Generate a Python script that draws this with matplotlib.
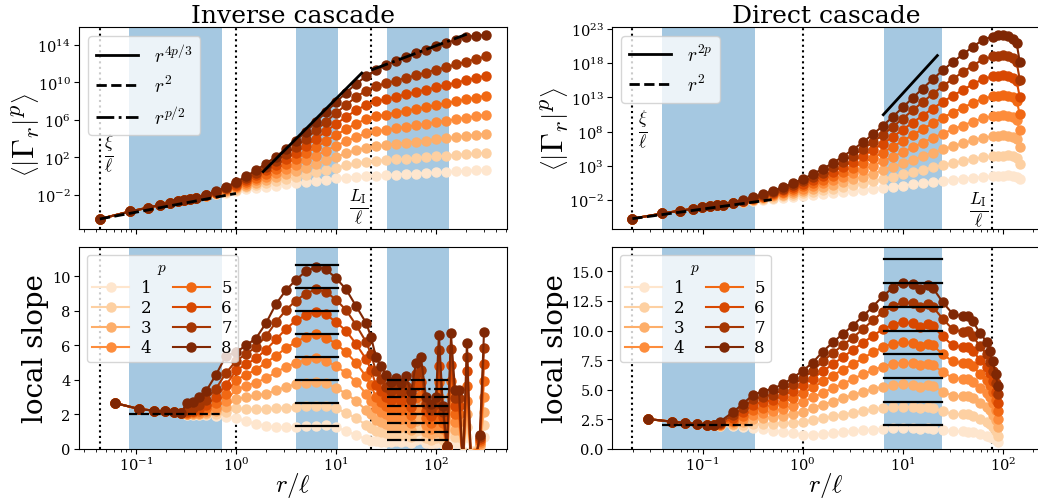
import numpy as np
import matplotlib
matplotlib.use("Agg")
import matplotlib.pyplot as plt
from matplotlib.lines import Line2D
from matplotlib.ticker import NullLocator

plt.rcParams['font.family'] = 'serif'
plt.rcParams['font.serif'] = ['DejaVu Serif']
plt.rcParams['mathtext.fontset'] = 'cm'

p_values = [1, 2, 3, 4, 5, 6, 7, 8]

# ---------------- Inverse cascade : structure functions (log10 values) -------------
inv_r_top = [0.0435, 0.087, 0.132, 0.174, 0.219, 0.263, 0.302, 0.347,
             0.398, 0.501, 0.631, 0.794, 1.0, 1.26, 1.58, 2.0, 2.51, 3.16, 3.98, 5.01,
             6.31, 7.94, 10.0, 12.6, 15.8, 20.0, 25.1, 31.6, 39.8, 50.1, 63.1, 79.4,
             100, 126, 158, 200, 251, 316]
inv_top_small = [-4.56, -3.76, -3.35, -3.07, -2.86, -2.69, -2.55, -2.43]
inv_top_p1 = [-2.31, -2.12, -1.93, -1.74, -1.56, -1.39, -1.24, -1.11, -0.99, -0.87, -0.75, -0.62, -0.49, -0.36, -0.24,
              -0.14, -0.06, 0.00, 0.07, 0.13, 0.18, 0.24, 0.29, 0.35, 0.40, 0.46, 0.51, 0.57, 0.62, 0.68]
inv_top_p2 = [-2.31, -2.10, -1.88, -1.65, -1.43, -1.19, -0.97, -0.76, -0.55, -0.33, -0.10, 0.15, 0.41, 0.67, 0.92,
              1.15, 1.36, 1.52, 1.63, 1.71, 1.79, 1.87, 1.95, 2.03, 2.11, 2.19, 2.27, 2.35, 2.43, 2.51]
inv_top_p3 = [-2.30, -2.08, -1.83, -1.57, -1.29, -1.00, -0.70, -0.41, -0.11, 0.21, 0.55, 0.91, 1.31, 1.70, 2.09,
              2.44, 2.77, 3.04, 3.20, 3.32, 3.44, 3.57, 3.69, 3.81, 3.93, 4.05, 4.17, 4.30, 4.42, 4.54]
inv_top_p4 = [-2.30, -2.06, -1.79, -1.48, -1.16, -0.80, -0.43, -0.06, 0.33, 0.75, 1.20, 1.68, 2.21, 2.73, 3.25,
              3.73, 4.19, 4.56, 4.78, 4.94, 5.11, 5.27, 5.43, 5.59, 5.76, 5.92, 6.08, 6.24, 6.41, 6.57]
inv_top_p5 = [-2.29, -2.04, -1.74, -1.39, -1.02, -0.61, -0.16, 0.29, 0.77, 1.29, 1.85, 2.45, 3.11, 3.76, 4.41,
              5.02, 5.60, 6.09, 6.38, 6.58, 6.78, 6.98, 7.18, 7.39, 7.59, 7.79, 7.99, 8.19, 8.39, 8.59]
inv_top_p6 = [-2.29, -2.02, -1.69, -1.30, -0.89, -0.41, 0.11, 0.65, 1.22, 1.82, 2.50, 3.22, 4.00, 4.79, 5.58,
              6.32, 7.02, 7.61, 7.98, 8.23, 8.48, 8.73, 8.98, 9.23, 9.48, 9.73, 9.98, 10.23, 10.48, 10.73]
inv_top_p7 = [-2.28, -2.00, -1.65, -1.22, -0.76, -0.22, 0.37, 1.00, 1.66, 2.36, 3.15, 3.98, 4.90, 5.82, 6.74,
              7.61, 8.43, 9.13, 9.62, 9.91, 10.20, 10.48, 10.77, 11.06, 11.35, 11.64, 11.93, 12.21, 12.50, 12.79]
inv_top_p8 = [-2.28, -1.98, -1.60, -1.13, -0.62, -0.02, 0.64, 1.35, 2.10, 2.90, 3.80, 4.75, 5.80, 6.85, 7.90,
              8.90, 9.85, 10.65, 11.30, 11.85, 12.30, 12.70, 13.10, 13.50, 13.85, 14.20, 14.55, 14.85, 15.00, 15.07]

# ---------------- Inverse cascade : local slopes -------------
inv_r_slope = [0.0617, 0.107, 0.151, 0.195, 0.240, 0.282, 0.324, 0.372, 0.427, 0.501, 0.631, 0.794,
               1.0, 1.26, 1.58, 2.0, 2.51, 3.16, 3.98, 5.01, 6.31, 7.94, 10.0, 12.6, 15.8, 20.0,
               22.4, 25.1, 28.2, 31.6, 35.5, 39.8, 44.7, 50.1, 56.2, 63.1, 70.8, 79.4, 89.1, 100,
               107, 117, 129, 141, 155, 170, 186, 204, 224, 251, 275, 302]
inv_slope_small = [2.66, 2.32, 2.22, 2.18, 2.12, 2.10]
inv_slope_p1 = [1.98, 1.97, 1.96, 1.95, 1.92, 1.88, 1.78, 1.62, 1.45, 1.33, 1.27, 1.25, 1.27, 1.31, 1.33, 1.37,
                1.25, 1.05, 0.80, 0.58, 0.48, 0.44, 0.43, 0.42,
                0.43, 0.45, 0.42, 0.46, 0.36, 0.55, 0.58, 0.33, 0.29, 0.33, 0.73, 0.28, 0.02, 0.74, 0.37,
                0.37, -0.11, 0.68, -0.11, -0.06, 0.09, 0.71]
inv_slope_p2 = [2.00, 2.00, 2.00, 2.02, 2.05, 2.15, 2.35, 2.33, 2.30, 2.30, 2.35, 2.40, 2.45, 2.50, 2.50, 2.48,
                2.35, 2.10, 1.78, 1.40, 1.20, 1.05, 0.98, 0.92,
                0.82, 0.86, 0.80, 0.88, 0.69, 1.05, 1.11, 0.63, 0.55, 0.63, 1.39, 0.53, 0.03, 1.41, 0.71,
                0.71, -0.21, 1.29, -0.21, -0.11, 0.17, 1.39]
inv_slope_p3 = [2.02, 2.03, 2.05, 2.10, 2.20, 2.45, 2.90, 3.00, 3.10, 3.20, 3.40, 3.60, 3.75, 3.85, 3.90, 3.80,
                3.55, 3.20, 2.80, 2.25, 2.00, 1.70, 1.55, 1.45,
                1.29, 1.35, 1.25, 1.39, 1.09, 1.65, 1.75, 0.99, 0.86, 0.99, 2.18, 0.83, 0.05, 2.21, 1.12,
                1.12, -0.33, 2.03, -0.33, -0.17, 0.26, 2.16]
inv_slope_p4 = [2.05, 2.07, 2.10, 2.20, 2.40, 2.80, 3.45, 3.65, 3.85, 4.10, 4.45, 4.75, 5.00, 5.15, 5.25, 5.10,
                4.80, 4.40, 3.90, 3.20, 2.80, 2.35, 2.15, 2.00,
                1.77, 1.87, 1.73, 1.91, 1.50, 2.28, 2.41, 1.37, 1.18, 1.37, 3.00, 1.14, 0.07, 3.05, 1.55,
                1.55, -0.46, 2.80, -0.46, -0.23, 0.36, 3.03]
inv_slope_p5 = [2.08, 2.12, 2.18, 2.35, 2.65, 3.20, 4.00, 4.30, 4.60, 5.00, 5.40, 5.85, 6.20, 6.50, 6.65, 6.45,
                6.10, 5.60, 5.00, 4.20, 3.70, 3.00, 2.75, 2.50,
                2.30, 2.42, 2.24, 2.48, 1.95, 2.95, 3.13, 1.77, 1.53, 1.77, 3.89, 1.48, 0.09, 3.95, 2.01,
                2.01, -0.59, 3.63, -0.59, -0.30, 0.47, 3.94]
inv_slope_p6 = [2.12, 2.20, 2.30, 2.55, 3.00, 3.70, 4.55, 4.90, 5.25, 5.75, 6.35, 6.95, 7.45, 7.75, 7.95, 7.80,
                7.35, 6.85, 6.10, 5.20, 4.60, 3.70, 3.35, 3.00,
                2.85, 2.99, 2.77, 3.07, 2.41, 3.65, 3.87, 2.19, 1.90, 2.19, 4.82, 1.83, 0.11, 4.89, 2.48,
                2.48, -0.73, 4.49, -0.73, -0.37, 0.58, 4.92]
inv_slope_p7 = [2.25, 2.40, 2.55, 2.85, 3.50, 4.40, 5.10, 5.50, 5.90, 6.55, 7.35, 8.05, 8.60, 9.00, 9.25, 9.10,
                8.65, 8.05, 7.20, 6.20, 5.50, 4.50, 4.05, 3.60,
                3.37, 3.55, 3.29, 3.63, 2.85, 4.33, 4.58, 2.60, 2.25, 2.60, 5.71, 2.16, 0.13, 5.80, 2.94,
                2.94, -0.87, 5.32, -0.87, -0.43, 0.69, 5.83]
inv_slope_p8 = [2.65, 2.74, 3.00, 3.35, 4.30, 5.40, 5.60, 6.00, 6.40, 7.30, 8.40, 9.20, 9.80, 10.30, 10.55, 10.40,
                9.90, 9.25, 8.30, 7.30, 6.50, 5.30, 4.80, 4.30,
                3.90, 4.10, 3.80, 4.20, 3.30, 5.00, 5.30, 3.00, 2.60, 3.00, 6.60, 2.50, 0.15, 6.70, 3.40,
                3.40, -1.00, 6.15, -1.00, -0.50, 0.80, 6.76]

# ---------------- Direct cascade : structure functions (log10 values) -------------
dir_r_top = [0.0198, 0.0396, 0.0594, 0.0792, 0.099, 0.119, 0.139,
             0.158, 0.2, 0.251, 0.316, 0.398, 0.501, 0.631, 0.794, 1.0, 1.26, 1.58, 2.0, 2.51,
             3.16, 3.98, 5.01, 6.31, 7.94, 10.0, 12.6, 15.8, 20.0, 25.1, 31.6, 39.8, 50.1, 63.1,
             79.4, 89.1, 100, 112, 126, 138, 148]
dir_top_small = [-4.73, -3.97, -3.56, -3.29, -3.09, -2.93, -2.79]
dir_top_p1 = [-2.68, -2.49, -2.31, -2.13, -1.96, -1.80, -1.65, -1.51, -1.38, -1.26, -1.14, -1.01, -0.87, -0.72,
              -0.57, -0.41, -0.24, -0.07, 0.10, 0.28, 0.45, 0.62, 0.79, 0.94, 1.09, 1.24, 1.36, 1.46,
              1.52, 1.57, 1.60, 1.55, 1.40, 1.03]
dir_top_p2 = [-2.68, -2.48, -2.27, -2.06, -1.85, -1.64, -1.43, -1.23, -1.03, -0.83, -0.61, -0.38, -0.13, 0.15,
              0.43, 0.73, 1.06, 1.39, 1.73, 2.09, 2.43, 2.77, 3.10, 3.40, 3.69, 3.97, 4.22, 4.38,
              4.45, 4.50, 4.51, 4.41, 4.19, 3.31]
dir_top_p3 = [-2.68, -2.46, -2.24, -1.99, -1.73, -1.47, -1.22, -0.95, -0.68, -0.39, -0.09, 0.25, 0.62, 1.01,
              1.43, 1.87, 2.35, 2.85, 3.37, 3.89, 4.40, 4.92, 5.41, 5.86, 6.29, 6.71, 7.09, 7.30,
              7.39, 7.43, 7.41, 7.28, 6.97, 5.75]
dir_top_p4 = [-2.68, -2.45, -2.20, -1.92, -1.62, -1.31, -1.00, -0.67, -0.33, 0.04, 0.44, 0.88, 1.36, 1.88,
              2.43, 3.01, 3.65, 4.31, 5.00, 5.70, 6.38, 7.07, 7.72, 8.32, 8.89, 9.44, 9.95, 10.22,
              10.32, 10.36, 10.32, 10.14, 9.76, 8.19]
dir_top_p5 = [-2.67, -2.44, -2.16, -1.84, -1.50, -1.15, -0.78, -0.39, 0.02, 0.47, 0.96, 1.51, 2.10, 2.74,
              3.43, 4.16, 4.94, 5.77, 6.63, 7.51, 8.36, 9.22, 10.03, 10.78, 11.49, 12.18, 12.81, 13.14,
              13.25, 13.29, 13.23, 13.01, 12.54, 10.53]
dir_top_p6 = [-2.67, -2.43, -2.12, -1.77, -1.39, -0.99, -0.56, -0.12, 0.37, 0.90, 1.49, 2.14, 2.85, 3.61,
              4.43, 5.30, 6.24, 7.23, 8.27, 9.32, 10.34, 11.37, 12.34, 13.23, 14.08, 14.91, 15.68, 16.06,
              16.18, 16.22, 16.14, 15.87, 15.33, 13.06]
dir_top_p7 = [-2.67, -2.41, -2.09, -1.70, -1.27, -0.82, -0.35, 0.16, 0.72, 1.34, 2.01, 2.77, 3.60, 4.47,
              5.42, 6.44, 7.53, 8.69, 9.90, 11.12, 12.31, 13.51, 14.65, 15.69, 16.68, 17.65, 18.54, 18.98,
              19.12, 19.15, 19.04, 18.73, 18.11, 15.60]
dir_top_p8 = [-2.67, -2.40, -2.05, -1.63, -1.16, -0.66, -0.13, 0.44, 1.07, 1.77, 2.54, 3.40, 4.34, 5.34,
              6.42, 7.58, 8.83, 10.15, 11.53, 12.93, 14.29, 15.66, 16.96, 18.15, 19.28, 20.38, 21.40, 21.90,
              22.05, 22.08, 21.95, 21.60, 20.90, 18.18]

# ---------------- Direct cascade : local slopes -------------
dir_r_slope = [0.0282, 0.049, 0.066, 0.087, 0.110, 0.129,
               0.148, 0.2, 0.251, 0.316, 0.398, 0.501, 0.631, 0.794, 1.0, 1.26, 1.58, 2.0, 2.51, 3.16,
               3.98, 5.01, 6.31, 7.94, 10.0, 12.6, 14.8, 17.8, 20.0, 25.1, 31.6, 39.8, 44.7, 50.1,
               58.9, 69.2, 74.1, 79.4, 85.1, 89.1]
dir_slope_small = [2.53, 2.31, 2.20, 2.11, 2.05, 2.03]
dir_slope_p1 = [1.95, 1.90, 1.82, 1.75, 1.65, 1.55, 1.45, 1.32, 1.20, 1.20, 1.25, 1.35, 1.45, 1.50, 1.58, 1.64,
                1.70, 1.74, 1.75, 1.75, 1.70, 1.74, 1.72, 1.60, 1.50, 1.48, 1.47, 1.40, 1.25, 1.10, 1.00, 0.90,
                0.75, 0.56]
dir_slope_p2 = [1.98, 2.00, 2.05, 2.10, 2.12, 2.15, 2.18, 2.22, 2.30, 2.45, 2.60, 2.75, 2.90, 3.05, 3.20, 3.35,
                3.45, 3.52, 3.55, 3.55, 3.45, 3.52, 3.47, 3.20, 2.95, 2.92, 2.92, 2.80, 2.52, 2.30, 2.10, 1.85,
                1.55, 1.12]
dir_slope_p3 = [2.00, 2.10, 2.30, 2.50, 2.60, 2.70, 2.80, 2.95, 3.15, 3.45, 3.75, 4.00, 4.30, 4.55, 4.80, 5.05,
                5.25, 5.40, 5.45, 5.42, 5.25, 5.38, 5.30, 4.85, 4.50, 4.45, 4.45, 4.28, 3.85, 3.55, 3.25, 2.90,
                2.45, 1.83]
dir_slope_p4 = [2.03, 2.25, 2.55, 2.90, 3.05, 3.20, 3.40, 3.65, 4.00, 4.35, 4.75, 5.15, 5.50, 5.90, 6.30, 6.65,
                6.95, 7.20, 7.30, 7.25, 7.05, 7.20, 7.10, 6.50, 6.00, 5.90, 5.90, 5.68, 5.12, 4.75, 4.35, 3.90,
                3.30, 2.53]
dir_slope_p5 = [2.07, 2.40, 2.80, 3.30, 3.50, 3.70, 3.90, 4.30, 4.70, 5.20, 5.70, 6.20, 6.70, 7.15, 7.65, 8.15,
                8.60, 8.90, 9.00, 8.95, 8.70, 8.90, 8.75, 8.00, 7.40, 7.25, 7.28, 7.00, 6.35, 5.85, 5.40, 4.80,
                4.10, 3.23]
dir_slope_p6 = [2.12, 2.60, 3.10, 3.75, 3.95, 4.15, 4.45, 4.90, 5.40, 5.95, 6.55, 7.15, 7.75, 8.35, 8.95, 9.55,
                10.10, 10.50, 10.70, 10.60, 10.30, 10.55, 10.40, 9.50, 8.75, 8.60, 8.63, 8.30, 7.55, 6.95, 6.40,
                5.70, 4.85, 3.85]
dir_slope_p7 = [2.20, 2.85, 3.45, 4.20, 4.40, 4.60, 4.95, 5.45, 5.96, 6.60, 7.40, 8.10, 8.75, 9.40, 10.10, 10.85,
                11.55, 12.05, 12.40, 12.30, 11.95, 12.20, 12.00, 11.00, 10.10, 9.90, 9.95, 9.55, 8.70, 8.00,
                7.35, 6.55, 5.60, 4.64]
dir_slope_p8 = [2.30, 3.10, 3.80, 4.55, 4.85, 5.10, 5.45, 6.00, 6.60, 7.30, 8.20, 9.00, 9.70, 10.40, 11.20, 12.00,
                12.90, 13.60, 14.05, 13.90, 13.50, 13.85, 13.60, 12.40, 11.40, 11.20, 11.25, 10.80, 9.80, 9.05,
                8.30, 7.40, 6.30, 5.35]

# ---------------- reference scales / ranges -------------
inv_bands = [(0.085, 0.72), (4.0, 10.4), (32.0, 136.0)]
inv_vlines = [0.0435, 1.0, 22.5]
dir_bands = [(0.0394, 0.333), (6.5, 24.5)]
dir_vlines = [0.0198, 1.0, 78.0]

inv_top = [inv_top_p1, inv_top_p2, inv_top_p3, inv_top_p4, inv_top_p5, inv_top_p6, inv_top_p7, inv_top_p8]
inv_slope = [inv_slope_p1, inv_slope_p2, inv_slope_p3, inv_slope_p4, inv_slope_p5, inv_slope_p6, inv_slope_p7,
             inv_slope_p8]
dir_top = [dir_top_p1, dir_top_p2, dir_top_p3, dir_top_p4, dir_top_p5, dir_top_p6, dir_top_p7, dir_top_p8]
dir_slope = [dir_slope_p1, dir_slope_p2, dir_slope_p3, dir_slope_p4, dir_slope_p5, dir_slope_p6, dir_slope_p7,
             dir_slope_p8]

colors = plt.cm.Oranges(np.linspace(0.125, 1.0, 8))
MS = 6.5
LW = 1.5

fig = plt.figure(figsize=(10.38, 5.02), dpi=100)
W, H = 1038.0, 502.0


def add_ax(left, top, right, bottom):
    return fig.add_axes([left / W, 1 - bottom / H, (right - left) / W, (bottom - top) / H])


ax_it = add_ax(79, 28, 507, 230)
ax_is = add_ax(79, 248, 507, 450)
ax_dt = add_ax(612, 28, 1040, 230)
ax_ds = add_ax(612, 248, 1040, 450)

band_color = (0.122, 0.467, 0.706, 0.4)


def decorate(ax, bands, vlines):
    for a, b in bands:
        ax.axvspan(a, b, color=band_color, lw=0, zorder=0)
    for v in vlines:
        ax.axvline(v, color='k', ls=':', lw=1.5, zorder=1)
    ax.set_xscale('log')


def top_legend(ax, handles, labels):
    leg = ax.legend(handles, labels, loc='upper left', fontsize=14, handlelength=2.2,
                    labelspacing=0.45, borderaxespad=0.45, handletextpad=0.8)
    leg.set_zorder(100)


def slope_legend(ax):
    leg = ax.legend(title=r'$p$', ncol=2, loc='upper left', fontsize=12, title_fontsize=11,
                    handlelength=2.2, columnspacing=1.3, labelspacing=0.18, borderaxespad=0.45,
                    handletextpad=0.7, borderpad=0.35)
    leg.set_zorder(100)


GAMMA_LABEL = r'$\left\langle\left|\Gamma_r\right|^p\right\rangle$'

# ---- top-left
decorate(ax_it, inv_bands, inv_vlines)
for i, p in enumerate(p_values):
    y = 10 ** np.array(inv_top_small + inv_top[i])
    ax_it.plot(inv_r_top, y, '-o', color=colors[i], ms=MS, lw=LW, zorder=2 + i)
rg = np.array([0.0435, 1.0])
ax_it.plot(rg, 10 ** -4.56 * (rg / 0.0435) ** 2, 'k--', lw=2, zorder=20)
rg = np.array([1.87, 18.1])
ax_it.plot(rg, 10 ** 0.49 * (rg / 1.87) ** (32 / 3), 'k-', lw=2, zorder=20)
rg = np.array([22.5, 203.0])
ax_it.plot(rg, 10 ** 11.33 * (rg / 22.5) ** 4, 'k-.', lw=2, zorder=20)
ax_it.set_xlim(0.0269, 513)
ax_it.set_ylim(10 ** -5.63, 10 ** 15.92)
ax_it.set_yscale('log')
ax_it.set_yticks([1e-2, 1e2, 1e6, 1e10, 1e14])
ax_it.yaxis.set_minor_locator(NullLocator())
ax_it.tick_params(labelbottom=False)
ax_it.set_title('Inverse cascade', fontsize=18, pad=3)
ax_it.set_ylabel(GAMMA_LABEL, fontsize=23)
ax_it.yaxis.set_label_coords(-0.086, 0.47)
ax_it.text(0.054, 10 ** 2.4, r'$\frac{\xi}{\ell}$', fontsize=18, ha='center', va='center')
ax_it.text(17.0, 10 ** -3.2, r'$\frac{L_\mathrm{I}}{\ell}$', fontsize=18, ha='center', va='center')
h = [Line2D([], [], color='k', ls='-', lw=2), Line2D([], [], color='k', ls='--', lw=2),
     Line2D([], [], color='k', ls='-.', lw=2)]
top_legend(ax_it, h, [r'$r^{4p/3}$', r'$r^2$', r'$r^{p/2}$'])

# ---- bottom-left
decorate(ax_is, inv_bands, inv_vlines)
for i, p in enumerate(p_values):
    ax_is.plot(inv_r_slope, inv_slope_small + inv_slope[i], '-o', color=colors[i], ms=MS, lw=LW,
               zorder=2 + i, label=str(p))
for p in p_values:
    ax_is.plot([4.0, 10.4], [4 * p / 3, 4 * p / 3], 'k-', lw=1.6, zorder=20)
    ax_is.plot([32.0, 136.0], [p / 2, p / 2], 'k-.', lw=1.6, zorder=20)
ax_is.plot([0.085, 0.72], [2, 2], 'k--', lw=1.6, zorder=20)
ax_is.set_xlim(0.0269, 513)
ax_is.set_ylim(0, 11.7)
ax_is.set_yticks([0, 2, 4, 6, 8, 10])
ax_is.set_ylabel('local slope', fontsize=20)
ax_is.yaxis.set_label_coords(-0.07, 0.5)
ax_is.set_xlabel(r'$r/\ell$', fontsize=18, labelpad=-2)
slope_legend(ax_is)

# ---- top-right
decorate(ax_dt, dir_bands, dir_vlines)
for i, p in enumerate(p_values):
    y = 10 ** np.array(dir_top_small + dir_top[i])
    ax_dt.plot(dir_r_top, y, '-o', color=colors[i], ms=MS, lw=LW, zorder=2 + i)
rg = np.array([0.0198, 0.49])
ax_dt.plot(rg, 10 ** -4.73 * (rg / 0.0198) ** 2, 'k--', lw=2, zorder=20)
rg = np.array([6.4, 22.2])
ax_dt.plot(rg, 10 ** 10.47 * (rg / 6.4) ** 16, 'k-', lw=2, zorder=20)
ax_dt.set_xlim(0.01239, 236)
ax_dt.set_ylim(10 ** -6.24, 10 ** 23.29)
ax_dt.set_yscale('log')
ax_dt.set_yticks([1e-2, 1e3, 1e8, 1e13, 1e18, 1e23])
ax_dt.yaxis.set_minor_locator(NullLocator())
ax_dt.tick_params(labelbottom=False)
ax_dt.set_title('Direct cascade', fontsize=18, pad=3)
ax_dt.set_ylabel(GAMMA_LABEL, fontsize=23)
ax_dt.yaxis.set_label_coords(-0.095, 0.5)
ax_dt.text(0.025, 10 ** 8.4, r'$\frac{\xi}{\ell}$', fontsize=18, ha='center', va='center')
ax_dt.text(58.0, 10 ** -3.3, r'$\frac{L_\mathrm{I}}{\ell}$', fontsize=18, ha='center', va='center')
h = [Line2D([], [], color='k', ls='-', lw=2), Line2D([], [], color='k', ls='--', lw=2)]
top_legend(ax_dt, h, [r'$r^{2p}$', r'$r^2$'])

# ---- bottom-right
decorate(ax_ds, dir_bands, dir_vlines)
for i, p in enumerate(p_values):
    ax_ds.plot(dir_r_slope, dir_slope_small + dir_slope[i], '-o', color=colors[i], ms=MS, lw=LW,
               zorder=2 + i, label=str(p))
for p in p_values:
    ax_ds.plot([6.5, 24.5], [2 * p, 2 * p], 'k-', lw=1.6, zorder=20)
ax_ds.plot([0.0394, 0.333], [2, 2], 'k--', lw=1.6, zorder=20)
ax_ds.set_xlim(0.01239, 236)
ax_ds.set_ylim(0, 17.05)
ax_ds.set_yticks([0, 2.5, 5, 7.5, 10, 12.5, 15])
ax_ds.set_yticklabels(['0.0', '2.5', '5.0', '7.5', '10.0', '12.5', '15.0'])
ax_ds.set_ylabel('local slope', fontsize=20)
ax_ds.yaxis.set_label_coords(-0.1, 0.5)
ax_ds.set_xlabel(r'$r/\ell$', fontsize=18, labelpad=-2)
slope_legend(ax_ds)

for ax in (ax_it, ax_is, ax_dt, ax_ds):
    ax.tick_params(labelsize=10.5, pad=2.5)
    ax.tick_params(axis='x', pad=1.5)

fig.savefig('out.png', dpi=100)
